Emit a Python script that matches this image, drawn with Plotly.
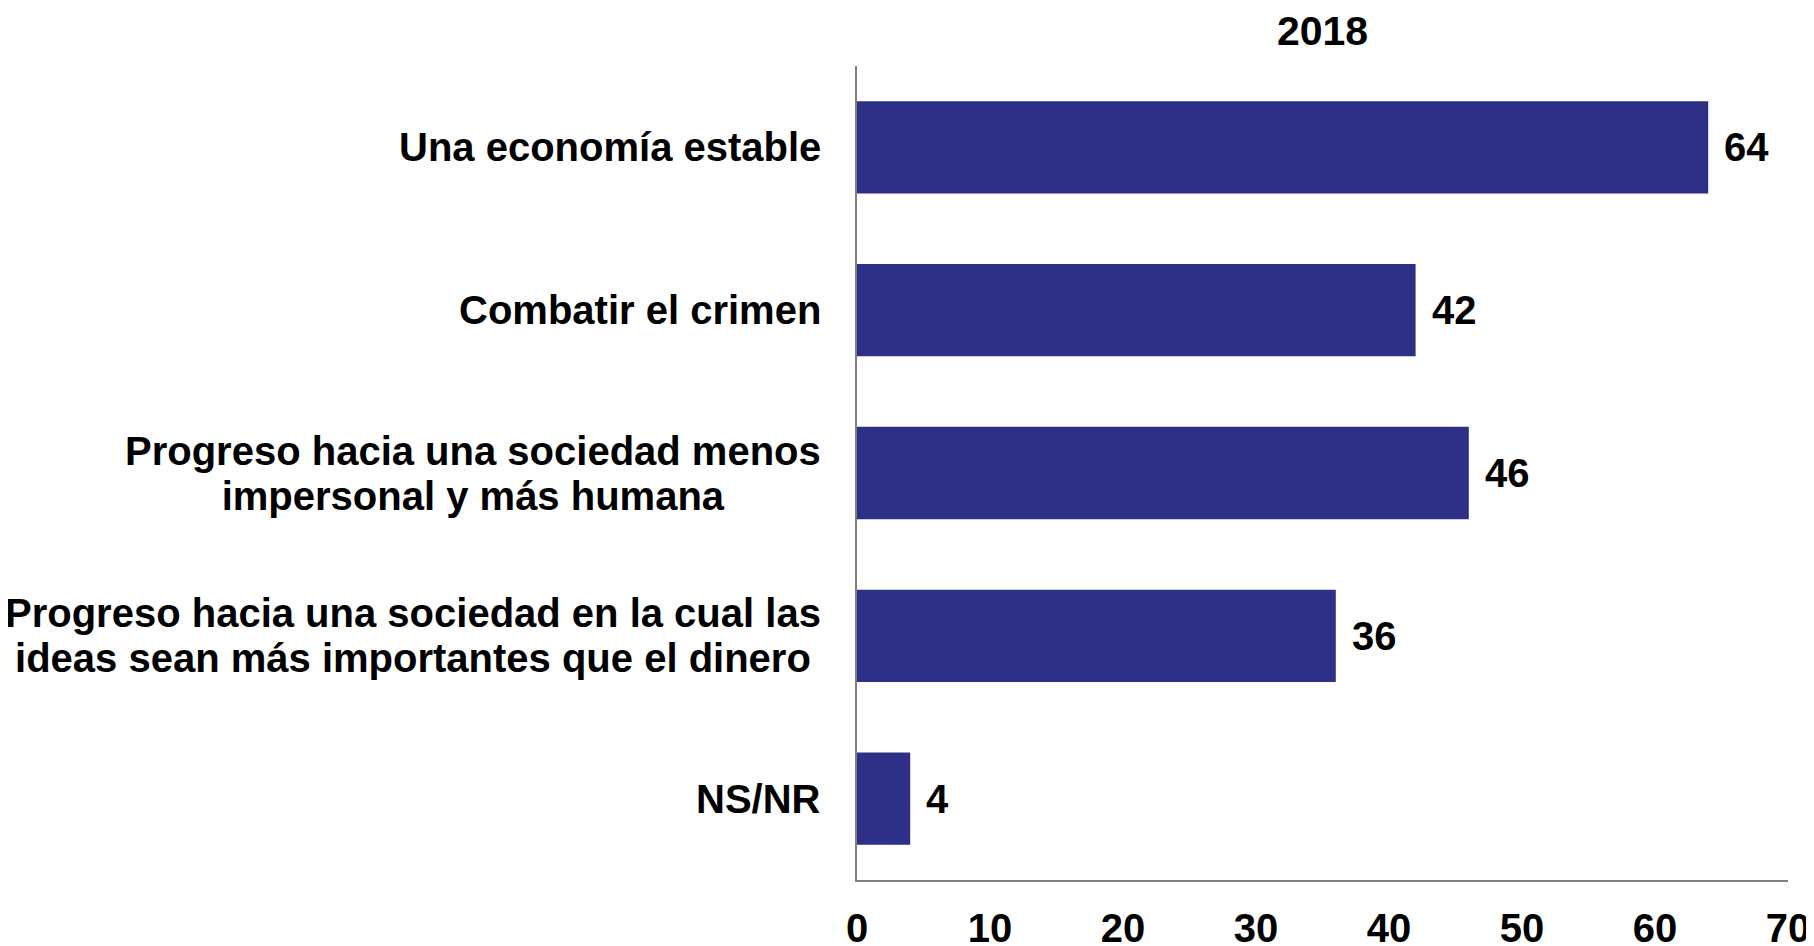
import plotly.graph_objects as go

categories = [
    "Una economía estable",
    "Combatir el crimen",
    "Progreso hacia una sociedad menos<br>impersonal y más humana",
    "Progreso hacia una sociedad en la cual las<br>ideas sean más importantes que el dinero",
    "NS/NR",
]
values = [64, 42, 46, 36, 4]
x_ticks = [0, 10, 20, 30, 40, 50, 60, 70]
title_text = "2018"

FONT = "Liberation Sans, Arial, sans-serif"
BAR_COLOR = "#2E3087"
AXIS_COLOR = "#808080"

# page has an 8px body margin, so the figure is sized to fit the viewport
W, H = 1806, 938
LINE_GAP = 45  # px between baselines of wrapped category labels

fig = go.Figure()
fig.add_trace(go.Bar(
    x=values,
    y=categories,
    orientation="h",
    marker=dict(color=BAR_COLOR, line=dict(width=0)),
    hoverinfo="skip",
))

annotations = []
for c, v in zip(categories, values):
    annotations.append(dict(
        x=v, y=c, xref="x", yref="y", text=str(v), showarrow=False,
        xanchor="left", yanchor="middle", xshift=14,
        font=dict(family=FONT, size=40, color="black", weight="bold"),
    ))
    annotations.append(dict(
        x=0, y=c, xref="paper", yref="y",
        text='<span style="font-size:40px">' + c + "</span>",
        showarrow=False,
        xanchor="right", yanchor="middle", align="center", xshift=-34,
        font=dict(family=FONT, size=LINE_GAP / 1.3, color="black", weight="bold"),
    ))

fig.update_layout(
    width=W, height=H,
    margin=dict(l=849, r=26, t=58, b=66, autoexpand=False),
    paper_bgcolor="white", plot_bgcolor="white",
    showlegend=False,
    bargap=0.433,
    title=dict(
        text=title_text, x=0.5, xref="paper", xanchor="center",
        y=1 - 23 / H, yref="container", yanchor="middle",
        font=dict(family=FONT, size=41, color="black", weight="bold"),
    ),
    xaxis=dict(
        range=[0, 70], tickmode="array", tickvals=x_ticks,
        ticktext=[str(t) for t in x_ticks],
        showgrid=False, zeroline=False, showline=True,
        linecolor=AXIS_COLOR, linewidth=1.5, ticks="",
        automargin=False,
        ticklabelstandoff=12,
        tickfont=dict(family=FONT, size=40, color="black", weight="bold"),
    ),
    yaxis=dict(
        categoryorder="array", categoryarray=categories,
        autorange="reversed", automargin=False,
        showgrid=False, zeroline=False, showline=True,
        linecolor=AXIS_COLOR, linewidth=1.5, ticks="",
        showticklabels=False,
    ),
    annotations=annotations,
)

fig.write_html("out.html")
